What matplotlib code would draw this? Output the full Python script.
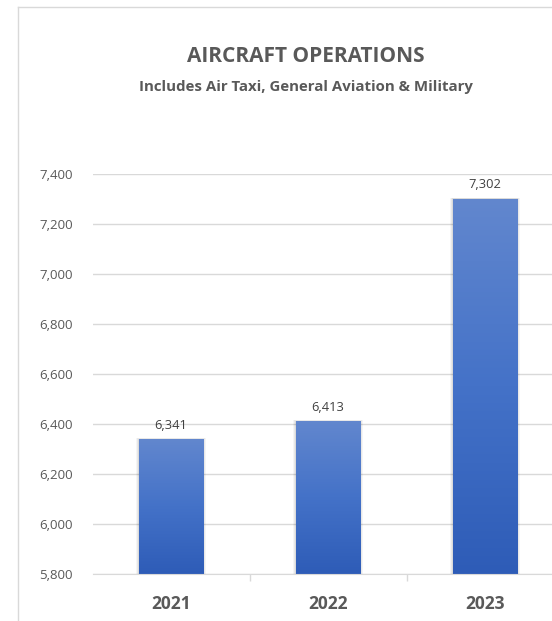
import matplotlib
matplotlib.use("Agg")
import matplotlib.pyplot as plt
import numpy as np
from matplotlib.colors import LinearSegmentedColormap
from matplotlib.patches import Rectangle
from matplotlib.lines import Line2D
from matplotlib.ticker import FuncFormatter

years = ["2021", "2022", "2023"]
operations = [6341, 6413, 7302]
y_ticks = [5800, 6000, 6200, 6400, 6600, 6800, 7000, 7200, 7400]

W, H = 552, 621
fig = plt.figure(figsize=(W / 100, H / 100), dpi=100)
fig.set_facecolor("white")
plt.rcParams["font.family"] = ["Open Sans", "DejaVu Sans"]

TEXT = "#595959"
GRID = "#D9D9D9"

# chart border (cropped on the right / bottom)
fig.add_artist(Line2D([18 / W, 18 / W], [0, 1 - 7 / H], transform=fig.transFigure,
                      color=GRID, linewidth=1))
fig.add_artist(Line2D([18 / W, 1], [1 - 7 / H, 1 - 7 / H], transform=fig.transFigure,
                      color=GRID, linewidth=1))

# titles
fig.text(306 / W, 1 - 57 / H, "AIRCRAFT OPERATIONS", ha="center", va="center",
         fontsize=15, fontweight="bold", color=TEXT)
fig.text(306 / W, 1 - 87 / H, "Includes Air Taxi, General Aviation & Military",
         ha="center", va="center", fontsize=10.8, fontweight="bold", color=TEXT)

# plot area
left, right, top, bottom = 92.5, 563.5, 174, 574
ax = fig.add_axes([left / W, 1 - bottom / H, (right - left) / W, (bottom - top) / H])
ax.set_facecolor("none")

x = np.arange(len(years))
width = 0.41
bars = ax.bar(x, [v - y_ticks[0] for v in operations], width=width, bottom=y_ticks[0],
              color="none", edgecolor="none", zorder=3)

# soft shadow
for b in bars:
    for k, a in enumerate([0.06, 0.05, 0.04]):
        d = 0.006 * (k + 1)
        ax.add_patch(Rectangle((b.get_x() - d, b.get_y()), b.get_width() + 2 * d,
                               b.get_height() + d * 120, facecolor="#000000",
                               alpha=a, edgecolor="none", zorder=2))

# gradient fill for each bar
cmap = LinearSegmentedColormap.from_list("bar", ["#2E5CB7", "#4472C8", "#6287CE"])
grad = np.linspace(0, 1, 256).reshape(-1, 1)
for b in bars:
    im = ax.imshow(grad, extent=[b.get_x(), b.get_x() + b.get_width(),
                                 b.get_y(), b.get_y() + b.get_height()],
                   origin="lower", aspect="auto", cmap=cmap, zorder=4)
    im.set_clip_path(b)

for xi, v in zip(x, operations):
    ax.text(xi, v + 28, f"{v:,}", ha="center", va="bottom", fontsize=9.3,
            color="#404040", zorder=5)

ax.set_xlim(-0.5, 2.5)
ax.set_ylim(y_ticks[0], y_ticks[-1])
ax.set_yticks(y_ticks)
ax.yaxis.set_major_formatter(FuncFormatter(lambda v, p: f"{int(v):,}"))
ax.grid(axis="y", color=GRID, linewidth=1, zorder=0)
ax.set_axisbelow(True)

ax.set_xticks([0.5, 1.5])
ax.set_xticklabels([])
ax.set_xticks(x, minor=True)
ax.set_xticklabels(years, minor=True, fontsize=12.5, fontweight="bold", color=TEXT)
ax.tick_params(axis="x", which="major", length=5, color=GRID, width=1)
ax.tick_params(axis="x", which="minor", length=0, pad=15)
ax.tick_params(axis="y", length=0, pad=14, labelsize=9.5, labelcolor=TEXT)

for s in ["top", "right", "left"]:
    ax.spines[s].set_visible(False)
ax.spines["bottom"].set_color(GRID)
ax.spines["bottom"].set_zorder(6)

fig.savefig("out.png", dpi=100, facecolor="white")
